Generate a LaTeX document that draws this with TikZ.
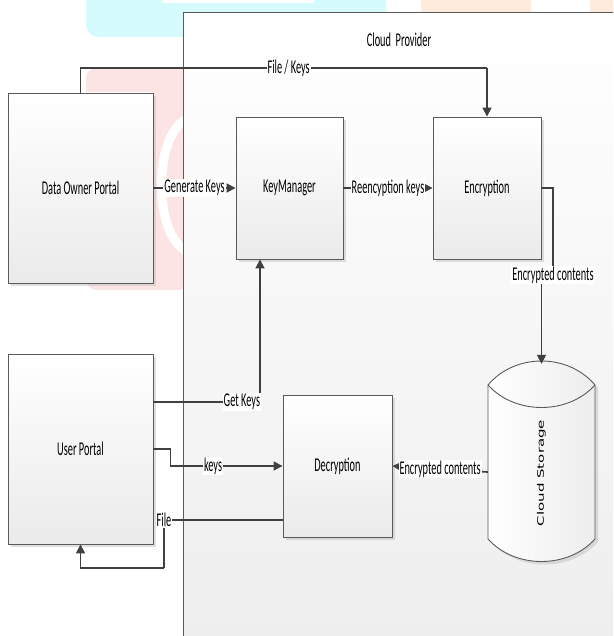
\documentclass[tikz,border=0pt]{standalone}
\usepackage{fontspec}
\setmainfont{Carlito}[FakeStretch=0.53]
\newfontfamily\storefont{DejaVu Sans}
\usetikzlibrary{arrows.meta,shadows}
\definecolor{linegray}{HTML}{404040}
\definecolor{edgegray}{HTML}{5A5A5A}
\definecolor{wmcyan}{HTML}{D6FBFD}
\definecolor{wmpink}{HTML}{FDE4E4}
\definecolor{wmpeach}{HTML}{FEEBDC}

\begin{document}
\begin{tikzpicture}
        [x=1pt, y=-1pt,
        box/.style={rectangle, draw=edgegray, line width=0.9pt, top color=white, bottom color=black!8,
          drop shadow={shadow xshift=3pt, shadow yshift=-3pt, fill=black!25, opacity=0.5},
          font=\fontsize{19.5}{22}\selectfont, inner sep=0pt},
        conn/.style={linegray, line width=1.7pt, -{Triangle[length=9pt, width=9pt]}},
        plain/.style={linegray, line width=1.7pt},
        lbl/.style={fill=white, text=black, inner sep=1pt, font=\fontsize{19.5}{22}\selectfont}]

        \useasboundingbox (0,0) rectangle (613,636);
        \clip (0,0) rectangle (613,636);

        % watermark left behind the scan
        \fill[wmcyan, rounded corners=12pt] (86,-20) rectangle (386,37);
        \fill[white] (162,-5) rectangle (314,3);
        \fill[wmpeach] (421,-5) rectangle (531,12);
        \fill[wmpeach] (590,-5) rectangle (620,12);
        \fill[wmpink, rounded corners=10pt] (86,68) rectangle (190,290);
        \draw[white, line width=9pt] (190,118) .. controls (152,128) and (152,242) .. (190,252);

        % cloud provider area
        \node[rectangle, draw=edgegray, line width=0.8pt, top color=white, bottom color=black!7,
          minimum width=460pt, minimum height=660pt, anchor=north west] (provider) at (183,12) {};
        \node[font=\fontsize{19.5}{22}\selectfont] (providertitle) at (399,40) {Cloud\ \ Provider};

        \node[box, minimum width=145pt, minimum height=190pt] (owner) at (80.5,188) {Data Owner Portal};
        \node[box, minimum width=145pt, minimum height=190pt] (user) at (80.5,449) {User Portal};
        \node[box, minimum width=107pt, minimum height=142pt] (keymgr) at (289.5,188) {KeyManager};
        \node[box, minimum width=108pt, minimum height=142pt] (encrypt) at (487,188) {Encryption};
        \node[box, minimum width=109pt, minimum height=142pt] (decrypt) at (337.5,466) {Decryption};

        % storage drum
        \node[inner sep=0pt, minimum width=107pt, minimum height=198pt] (store) at (541.5,462) {};
        \fill[black!25, opacity=0.5] (491,388) -- (491,542)
          .. controls (518,572) and (571,572) .. (598,542) -- (598,388)
          .. controls (571,356) and (518,356) .. (491,388) -- cycle;
        \draw[edgegray, line width=0.9pt, left color=white, right color=black!7]
          (488,385) -- (488,539) .. controls (515,569) and (568,569) .. (595,539)
          -- (595,385) .. controls (568,353) and (515,353) .. (488,385) -- cycle;
        \draw[edgegray, line width=0.9pt] (488,385) .. controls (515,415) and (568,415) .. (595,385);
        \node[rotate=90, font=\storefont\fontsize{15}{18}\selectfont] (storetext) at (541.5,473)
          {\scalebox{1}[0.6]{Cloud Storage}};

        \coordinate (fkturn) at (487,68);
        \coordinate (ecturn) at (553,275);
        \coordinate (filedrop) at (164,568);

        \draw[plain] (owner.north) |- node[lbl, pos=0.756] {File / Keys} (fkturn);
        \draw[conn] (fkturn) -- (encrypt.north);
        \draw[conn] (owner.east) -- node[lbl] {Generate Keys} (keymgr.west);
        \draw[conn] (keymgr.east) -- node[lbl] {Reencyption keys} (encrypt.west);
        \draw[plain] (encrypt.east) -| (ecturn);
        \draw[conn] (ecturn) -| ([yshift=-1pt]store.north);
        \node[lbl] (eclabel) at (ecturn) {Encrypted contents};
        \draw[conn] ([yshift=-10pt]store.west) -- node[lbl] {Encrypted contents} (decrypt.east);
        \draw[conn] ([yshift=47pt]user.east) -| node[lbl, pos=0.415] {Get Keys} ([xshift=-29.5pt]keymgr.south);
        \draw[conn] (user.east) -- ++(17,0) |- node[lbl, pos=0.69] {keys} (decrypt.west);
        \draw[plain] ([yshift=-54pt]decrypt.west) -| node[lbl, pos=0.5] {File} (filedrop);
        \draw[conn] (filedrop) -| (user.south);

    \end{tikzpicture}
\end{document}
